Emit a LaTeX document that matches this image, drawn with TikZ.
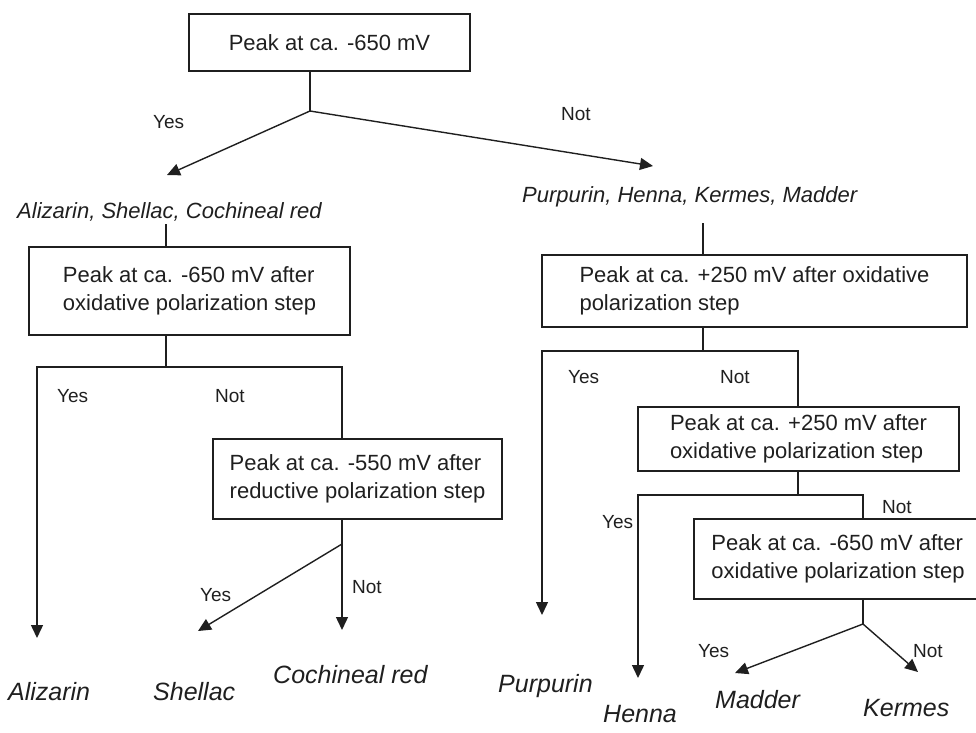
\documentclass[tikz,border=0pt]{standalone}
\usepackage{fontspec}
\setmainfont{Liberation Sans}
\usetikzlibrary{arrows.meta}
\newcommand\boxfont{\fontsize{22}{28}\selectfont}
\newcommand\smallfont{\fontsize{19}{23}\selectfont}
\newcommand\leaffont{\fontsize{25}{30}\selectfont\itshape}
\newcommand\midfont{\fontsize{22}{27}\selectfont\itshape}
\begin{document}
\begin{tikzpicture}[x=1pt,y=-1pt,
  line/.style={line width=1.4pt, draw=black!88},
  arr/.style={line, -{Triangle[length=13pt,width=12pt]}},
  dbox/.style={draw=black!88, line width=1.4pt, align=left, font=\boxfont, inner sep=0pt, text=black!88},
  lbl/.style={font=\smallfont, anchor=base west, inner sep=0pt, text=black!88},
  leaf/.style={font=\leaffont, anchor=base west, inner sep=0pt, text=black!88},
  grp/.style={font=\midfont, anchor=base west, inner sep=0pt, text=black!88}]
\useasboundingbox (0,0) rectangle (976,732);

% boxes
\node[dbox, minimum width=281pt, minimum height=57pt] (b1) at (329.5,42.5) {Peak at ca. -650 mV};
\node[dbox, minimum width=321pt, minimum height=88pt] (b2) at (189.5,291) {Peak at ca. -650 mV after\\oxidative polarization step};
\node[dbox, minimum width=289pt, minimum height=80pt] (b3) at (357.5,479) {Peak at ca. -550 mV after\\reductive polarization step};
\node[dbox, minimum width=425pt, minimum height=72pt] (b4) at (754.5,291) {Peak at ca. +250 mV after oxidative\\polarization step};
\node[dbox, minimum width=321pt, minimum height=64pt] (b5) at (798.5,439) {Peak at ca. +250 mV after\\oxidative polarization step};
\node[dbox, minimum width=288pt, minimum height=80pt] (b6) at (838,559) {Peak at ca. -650 mV after\\oxidative polarization step};

% group labels
\node[grp] (g1) at (17,218) {Alizarin, Shellac, Cochineal red};
\node[grp] (g2) at (522,202) {Purpurin, Henna, Kermes, Madder};

% leaves
\node[leaf] (alizarin) at (8,700) {Alizarin};
\node[leaf] (shellac) at (153,700) {Shellac};
\node[leaf] (cochineal) at (273,683) {Cochineal red};
\node[leaf] (purpurin) at (498,692) {Purpurin};
\node[leaf] (henna) at (603,722) {Henna};
\node[leaf] (madder) at (715,708) {Madder};
\node[leaf] (kermes) at (863,716) {Kermes};

% branch labels
\node[lbl] (y1) at (153,128) {Yes};
\node[lbl] (n1) at (561,120) {Not};
\node[lbl] (y2) at (57,402) {Yes};
\node[lbl] (n2) at (215,402) {Not};
\node[lbl] (y3) at (200,601) {Yes};
\node[lbl] (n3) at (352,593) {Not};
\node[lbl] (y4) at (568,383) {Yes};
\node[lbl] (n4) at (720,383) {Not};
\node[lbl] (y5) at (602,528) {Yes};
\node[lbl] (n5) at (882,513) {Not};
\node[lbl] (y6) at (698,657) {Yes};
\node[lbl] (n6) at (913,657) {Not};

% junctions and arrow ends
\coordinate (j1) at (310,111);
\coordinate (e1) at (167,175);
\coordinate (e2) at (653,166);
\coordinate (c1) at (166,224);
\coordinate (c2) at (703,223);
\coordinate (j2) at (166,367);
\coordinate (k2) at (342,367);
\coordinate (a2) at (37,638);
\coordinate (j3) at (342,544);
\coordinate (e3) at (198,631);
\coordinate (e4) at (342,630);
\coordinate (j4) at (703,351);
\coordinate (k4) at (798,351);
\coordinate (a4) at (542,615);
\coordinate (j5) at (798,495);
\coordinate (k5) at (863,495);
\coordinate (a5) at (638,678);
\coordinate (j6) at (863,624);
\coordinate (e5) at (735,673);
\coordinate (e6) at (918,672);

% connectors
\draw[line] (b1.south -| j1) -- (j1);
\draw[arr] (j1) -- (e1);
\draw[arr] (j1) -- (e2);
\draw[line] (c1) -- (c1 |- b2.north);
\draw[line] (c2) -- (c2 |- b4.north);

\draw[line] (b2.south -| j2) -- (j2);
\draw[arr] (j2) -| (a2);
\draw[line] (j2) -- (k2) -- (k2 |- b3.north);
\draw[line] (b3.south -| j3) -- (j3);
\draw[arr] (j3) -- (e3);
\draw[arr] (j3) -- (e4);

\draw[line] (b4.south -| j4) -- (j4);
\draw[arr] (j4) -| (a4);
\draw[line] (j4) -- (k4) -- (k4 |- b5.north);
\draw[line] (b5.south -| j5) -- (j5);
\draw[arr] (j5) -| (a5);
\draw[line] (j5) -- (k5) -- (k5 |- b6.north);
\draw[line] (b6.south -| j6) -- (j6);
\draw[arr] (j6) -- (e5);
\draw[arr] (j6) -- (e6);
\end{tikzpicture}
\end{document}
